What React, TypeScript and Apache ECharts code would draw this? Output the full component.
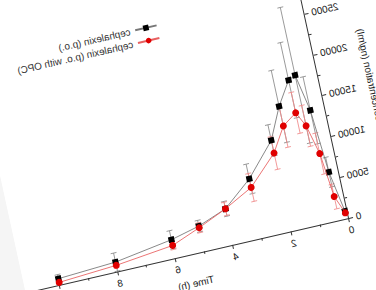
import React, { useEffect, useRef } from "react";
import * as echarts from "echarts";

const times = [0.083, 0.333, 0.5, 0.75, 1, 1.5, 2, 3, 4, 5, 6, 8, 10];
const poMean = [900, 5900, 13600, 18100, 17700, 14900, 11150, 7250, 4400, 3100, 2250, 1150, 750];
const poSD = [300, 1800, 4100, 8300, 4600, 4400, 1900, 1800, 900, 700, 1100, 1100, 500];
const opcMean = [700, 2900, 8300, 11900, 13700, 12500, 9600, 6200, 4400, 2900, 1550, 750, 300];
const opcSD = [300, 1500, 2500, 2500, 2500, 2600, 2000, 1700, 800, 600, 500, 300, 200];
const seriesNames = ["cephalexin (p.o.)", "cephalexin (p.o. with OPC)"];
const xTitle = "Time (h)";
const yTitle = "Plasma concentration (ng/ml)";

const FONT = "Liberation Sans";

function errorSeries(mean: number[], sd: number[], color: string) {
  return {
    type: "custom",
    silent: true,
    z: 1,
    encode: { x: 0, y: [1, 2] },
    data: times.map((t, i) => [t, mean[i] - sd[i], mean[i] + sd[i]]),
    renderItem: (params: any, api: any) => {
      const x = api.value(0);
      const pHi = api.coord([x, api.value(2)]);
      const pLo = api.coord([x, api.value(1)]);
      const w = 3;
      const style = { stroke: color, lineWidth: 0.8, fill: "none" };
      return {
        type: "group",
        children: [
          { type: "line", shape: { x1: pHi[0], y1: pHi[1], x2: pLo[0], y2: pLo[1] }, style },
          { type: "line", shape: { x1: pHi[0] - w, y1: pHi[1], x2: pHi[0] + w, y2: pHi[1] }, style },
          { type: "line", shape: { x1: pLo[0] - w, y1: pLo[1], x2: pLo[0] + w, y2: pLo[1] }, style },
        ],
      };
    },
  };
}

export default function App() {
  const ref = useRef<HTMLDivElement>(null);
  useEffect(() => {
    if (!ref.current) return;
    const chart = echarts.init(ref.current, null, { renderer: "svg" });
    const axisCommon = {
      axisLine: { show: true, lineStyle: { color: "#333", width: 1 } },
      axisTick: { show: true, inside: false, length: 4, lineStyle: { color: "#333" } },
      minorTick: { show: true, splitNumber: 2, length: 2.5, lineStyle: { color: "#333" } },
      splitLine: { show: false },
      nameTextStyle: { color: "#222", fontSize: 10, fontFamily: FONT },
      nameLocation: "middle",
    };
    const labelCommon = {
      color: "#222",
      fontSize: 10,
      fontFamily: FONT,
      margin: 7,
      showMaxLabel: false,
      formatter: (v: number) => String(v),
    };
    chart.setOption({
      animation: false,
      backgroundColor: "#fff",
      textStyle: { fontFamily: FONT },
      grid: { left: 80, top: 66, width: 326.7, height: 234, containLabel: false },
      legend: {
        data: seriesNames,
        orient: "vertical",
        left: 221,
        top: 58,
        itemWidth: 22,
        itemHeight: 7,
        itemGap: 1,
        textStyle: { color: "#333", fontSize: 10, fontFamily: FONT, lineHeight: 12 },
      },
      xAxis: {
        type: "value",
        min: 0,
        max: 11,
        interval: 2,
        name: xTitle,
        nameGap: 24,
        ...axisCommon,
        axisLabel: labelCommon,
      },
      yAxis: {
        type: "value",
        min: 0,
        max: 28000,
        interval: 5000,
        name: yTitle,
        nameGap: 36,
        ...axisCommon,
        axisLabel: labelCommon,
      },
      series: [
        errorSeries(poMean, poSD, "#8a8a8a"),
        errorSeries(opcMean, opcSD, "#f08a8a"),
        {
          name: seriesNames[0],
          type: "line",
          z: 3,
          data: times.map((t, i) => [t, poMean[i]]),
          symbol: "rect",
          symbolSize: 6,
          itemStyle: { color: "#000" },
          lineStyle: { color: "#777", width: 0.8 },
        },
        {
          name: seriesNames[1],
          type: "line",
          z: 4,
          data: times.map((t, i) => [t, opcMean[i]]),
          symbol: "circle",
          symbolSize: 7,
          itemStyle: { color: "#e00000" },
          lineStyle: { color: "#e86060", width: 0.8 },
        },
      ],
    });
    return () => chart.dispose();
  }, []);

  return (
    <div
      style={{
        position: "fixed",
        left: 0,
        top: 0,
        width: 376,
        height: 290,
        overflow: "hidden",
        background: "#f5f5f5",
      }}
    >
      <div
        ref={ref}
        style={{
          position: "absolute",
          left: 268.5,
          top: -82.5,
          width: 412,
          height: 420,
          background: "#fff",
          transformOrigin: "80px 300px",
          transform: "matrix(-0.974, 0.225, 0.213, 0.977, 0, 0)",
        }}
      />
    </div>
  );
}
